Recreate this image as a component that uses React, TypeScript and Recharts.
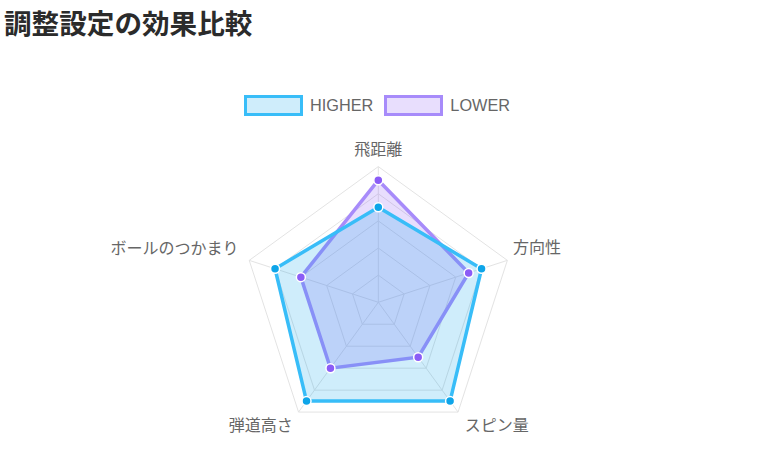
import {
  RadarChart,
  Radar,
  PolarGrid,
  PolarAngleAxis,
  PolarRadiusAxis,
  Legend,
} from 'recharts';

const categories = ['飛距離', '方向性', 'スピン量', '弾道高さ', 'ボールのつかまり'];
const higherValues = [7, 8, 9, 9, 8];
const lowerValues = [9, 7, 5, 6, 6];
const seriesNames = ['HIGHER', 'LOWER'];

const data = categories.map((name, i) => ({
  name,
  higher: higherValues[i],
  lower: lowerValues[i],
}));

const FONT = "Arial, 'Liberation Sans', 'Noto Sans CJK JP', sans-serif";

const HIGHER_LINE = '#38bdf8';
const HIGHER_DOT = '#0ea5e9';
const LOWER_LINE = '#a78bfa';
const LOWER_DOT = '#8b5cf6';

// label nudges relative to the default tick point (radius + 8)
const labelOffsets = [
  { dx: 0, dy: -9, anchor: 'middle' },
  { dx: -2, dy: -10, anchor: 'start' },
  { dx: 2, dy: 6.5, anchor: 'start' },
  { dx: -1, dy: 6.5, anchor: 'end' },
  { dx: -3, dy: -9.5, anchor: 'end' },
];

function AngleTick(props: any) {
  const { x, y, payload, index } = props;
  const o = labelOffsets[index] || { dx: 0, dy: 0, anchor: 'middle' };
  return (
    <text
      x={x + o.dx}
      y={y + o.dy}
      textAnchor={o.anchor}
      dominantBaseline="central"
      fill="#666"
      fontSize={16}
      fontFamily={FONT}
    >
      {payload.value}
    </text>
  );
}

function LegendContent() {
  const items = [
    { name: seriesNames[0], line: HIGHER_LINE, fill: 'rgba(14,165,233,0.2)' },
    { name: seriesNames[1], line: LOWER_LINE, fill: 'rgba(139,92,246,0.2)' },
  ];
  return (
    <div style={{ display: 'flex', alignItems: 'center', fontFamily: FONT }}>
      {items.map((it) => (
        <div key={it.name} style={{ display: 'flex', alignItems: 'center', marginRight: 11 }}>
          <span
            style={{
              display: 'inline-block',
              width: 53,
              height: 15,
              border: `3px solid ${it.line}`,
              background: it.fill,
              marginRight: 7,
            }}
          />
          <span style={{ fontSize: 16.3, color: '#666' }}>{it.name}</span>
        </div>
      ))}
    </div>
  );
}

export default function App() {
  return (
    <div
      style={{
        position: 'absolute',
        left: 0,
        top: 0,
        width: 760,
        height: 462,
        background: '#fff',
        overflow: 'hidden',
      }}
    >
      <div
        style={{
          position: 'absolute',
          left: 4,
          top: 3,
          fontSize: 27.6,
          fontWeight: 700,
          color: '#2b2b2b',
          fontFamily: "'Noto Sans CJK JP', sans-serif",
          lineHeight: '38px',
          whiteSpace: 'nowrap',
        }}
      >
        調整設定の効果比較
      </div>
      <RadarChart
        width={760}
        height={462}
        data={data}
        cx={378.3}
        cy={302.3}
        outerRadius={135.7}
        style={{ position: 'absolute', left: 0, top: 0 }}
      >
        <PolarGrid gridType="polygon" stroke="#e3e3e3" strokeWidth={1} />
        <PolarRadiusAxis domain={[0, 10]} tickCount={6} tick={false} axisLine={false} />
        <PolarAngleAxis dataKey="name" tick={AngleTick} tickLine={false} axisLine={false} />
        <Radar
          name={seriesNames[1]}
          dataKey="lower"
          stroke={LOWER_LINE}
          strokeWidth={3.5}
          fill={LOWER_DOT}
          fillOpacity={0.2}
          dot={{ r: 4.5, fill: LOWER_DOT, stroke: '#fff', strokeWidth: 1.5, fillOpacity: 1 }}
          isAnimationActive={false}
        />
        <Radar
          name={seriesNames[0]}
          dataKey="higher"
          stroke={HIGHER_LINE}
          strokeWidth={3.5}
          fill={HIGHER_DOT}
          fillOpacity={0.2}
          dot={{ r: 4.5, fill: HIGHER_DOT, stroke: '#fff', strokeWidth: 1.5, fillOpacity: 1 }}
          isAnimationActive={false}
        />
        <Legend
          content={LegendContent}
          wrapperStyle={{ position: 'absolute', left: 244, top: 95, width: 'auto' }}
        />
      </RadarChart>
    </div>
  );
}
